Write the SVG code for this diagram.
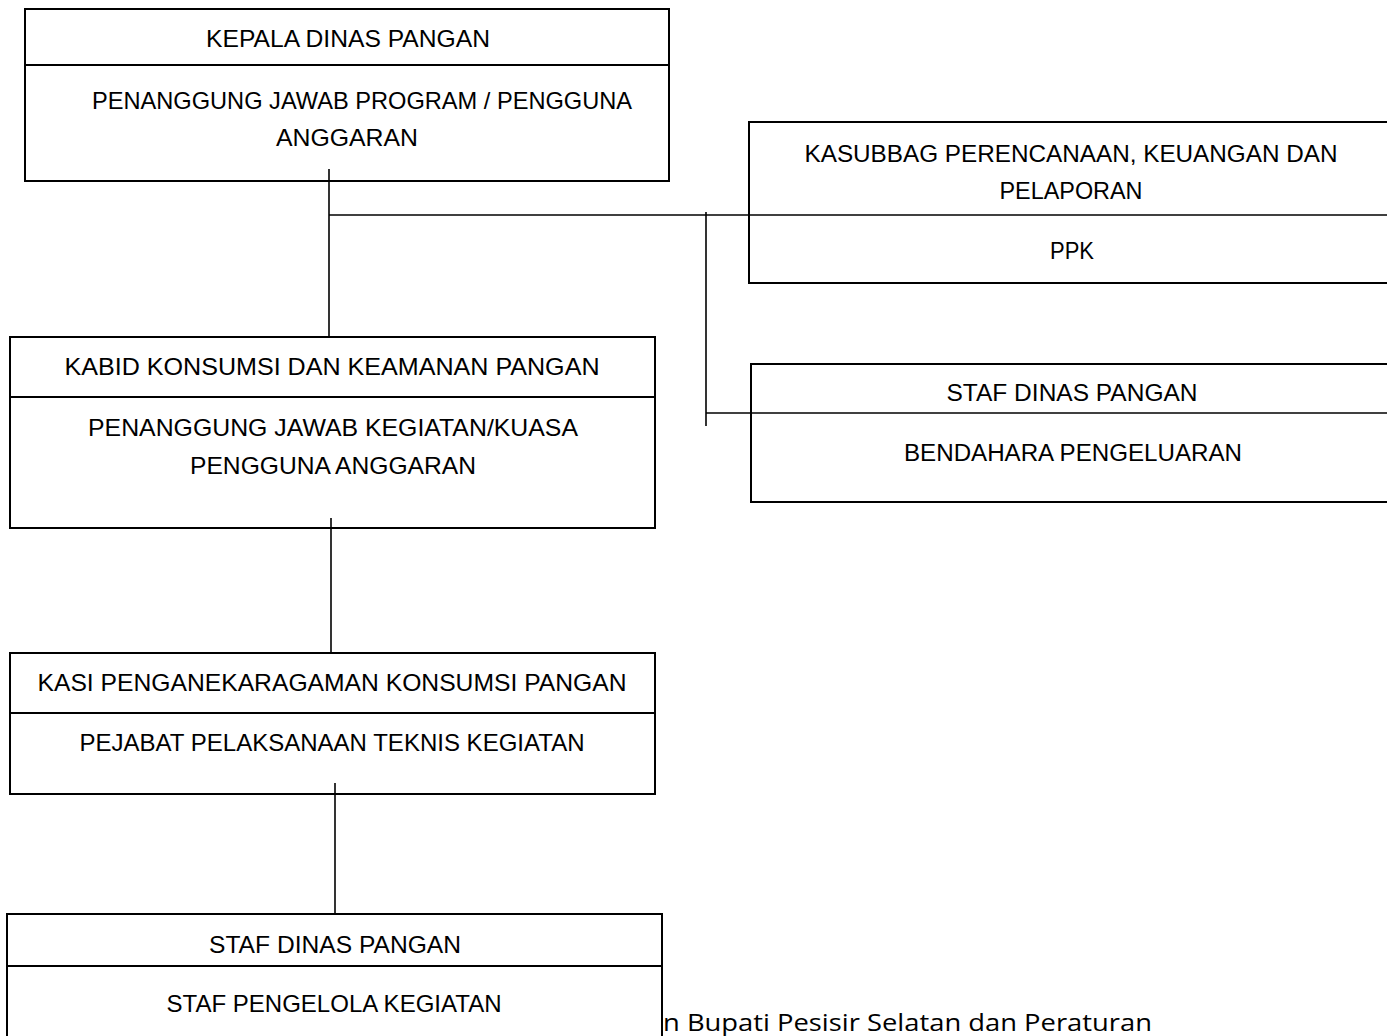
<svg xmlns="http://www.w3.org/2000/svg" width="1387" height="1036" viewBox="0 0 1387 1036">
<style>
.box{fill:#fff;stroke:#000;stroke-width:2}
.div{stroke:#000;stroke-width:2}
.con{stroke:#000;stroke-width:1.6;fill:none}
.t{font-family:"Liberation Sans",Arial,sans-serif;font-size:24.5px;fill:#000;text-anchor:middle}
.b{font-family:"Open Sans","Noto Sans",sans-serif;font-size:24px;fill:#000}
</style>
<rect width="1387" height="1036" fill="#fff"/>
<text class="b" x="663" y="1031" textLength="489" lengthAdjust="spacingAndGlyphs">n Bupati Pesisir Selatan dan Peraturan</text>
<g id="n1">
<rect class="box" x="25" y="9" width="644" height="172"/>
<line class="div" x1="25" y1="65" x2="669" y2="65"/>
<text class="t" x="348" y="47" textLength="284" lengthAdjust="spacingAndGlyphs">KEPALA DINAS PANGAN</text>
<text class="t" x="362" y="109" textLength="540" lengthAdjust="spacingAndGlyphs">PENANGGUNG JAWAB PROGRAM / PENGGUNA</text>
<text class="t" x="347" y="146" textLength="142" lengthAdjust="spacingAndGlyphs">ANGGARAN</text>
</g>
<g id="n2">
<rect class="box" x="749" y="122" width="660" height="161"/>
<text class="t" x="1071" y="162" textLength="533" lengthAdjust="spacingAndGlyphs">KASUBBAG PERENCANAAN, KEUANGAN DAN</text>
<text class="t" x="1071" y="199" textLength="143" lengthAdjust="spacingAndGlyphs">PELAPORAN</text>
<text class="t" x="1072" y="259" textLength="44" lengthAdjust="spacingAndGlyphs">PPK</text>
</g>
<g id="n3">
<rect class="box" x="751" y="364" width="660" height="138"/>
<text class="t" x="1072" y="401" textLength="251" lengthAdjust="spacingAndGlyphs">STAF DINAS PANGAN</text>
<text class="t" x="1073" y="461" textLength="338" lengthAdjust="spacingAndGlyphs">BENDAHARA PENGELUARAN</text>
</g>
<g id="n4">
<rect class="box" x="10" y="337" width="645" height="191"/>
<line class="div" x1="10" y1="397" x2="655" y2="397"/>
<text class="t" x="332" y="375" textLength="535" lengthAdjust="spacingAndGlyphs">KABID KONSUMSI DAN KEAMANAN PANGAN</text>
<text class="t" x="333" y="436" textLength="490" lengthAdjust="spacingAndGlyphs">PENANGGUNG JAWAB KEGIATAN/KUASA</text>
<text class="t" x="333" y="474" textLength="286" lengthAdjust="spacingAndGlyphs">PENGGUNA ANGGARAN</text>
</g>
<g id="n5">
<rect class="box" x="10" y="653" width="645" height="141"/>
<line class="div" x1="10" y1="713" x2="655" y2="713"/>
<text class="t" x="332" y="691" textLength="589" lengthAdjust="spacingAndGlyphs">KASI PENGANEKARAGAMAN KONSUMSI PANGAN</text>
<text class="t" x="332" y="751" textLength="505" lengthAdjust="spacingAndGlyphs">PEJABAT PELAKSANAAN TEKNIS KEGIATAN</text>
</g>
<g id="n6">
<rect class="box" x="7" y="914" width="655" height="140"/>
<line class="div" x1="7" y1="966" x2="662" y2="966"/>
<text class="t" x="335" y="953" textLength="252" lengthAdjust="spacingAndGlyphs">STAF DINAS PANGAN</text>
<text class="t" x="334" y="1012" textLength="335" lengthAdjust="spacingAndGlyphs">STAF PENGELOLA KEGIATAN</text>
</g>
<g id="connectors">
<line class="con" x1="329" y1="169" x2="329" y2="337"/>
<line class="con" x1="329" y1="215" x2="1387" y2="215"/>
<line class="con" x1="706" y1="212" x2="706" y2="426"/>
<line class="con" x1="706" y1="413" x2="1387" y2="413"/>
<line class="con" x1="331" y1="518" x2="331" y2="653"/>
<line class="con" x1="335" y1="783" x2="335" y2="914"/>
</g>
</svg>
